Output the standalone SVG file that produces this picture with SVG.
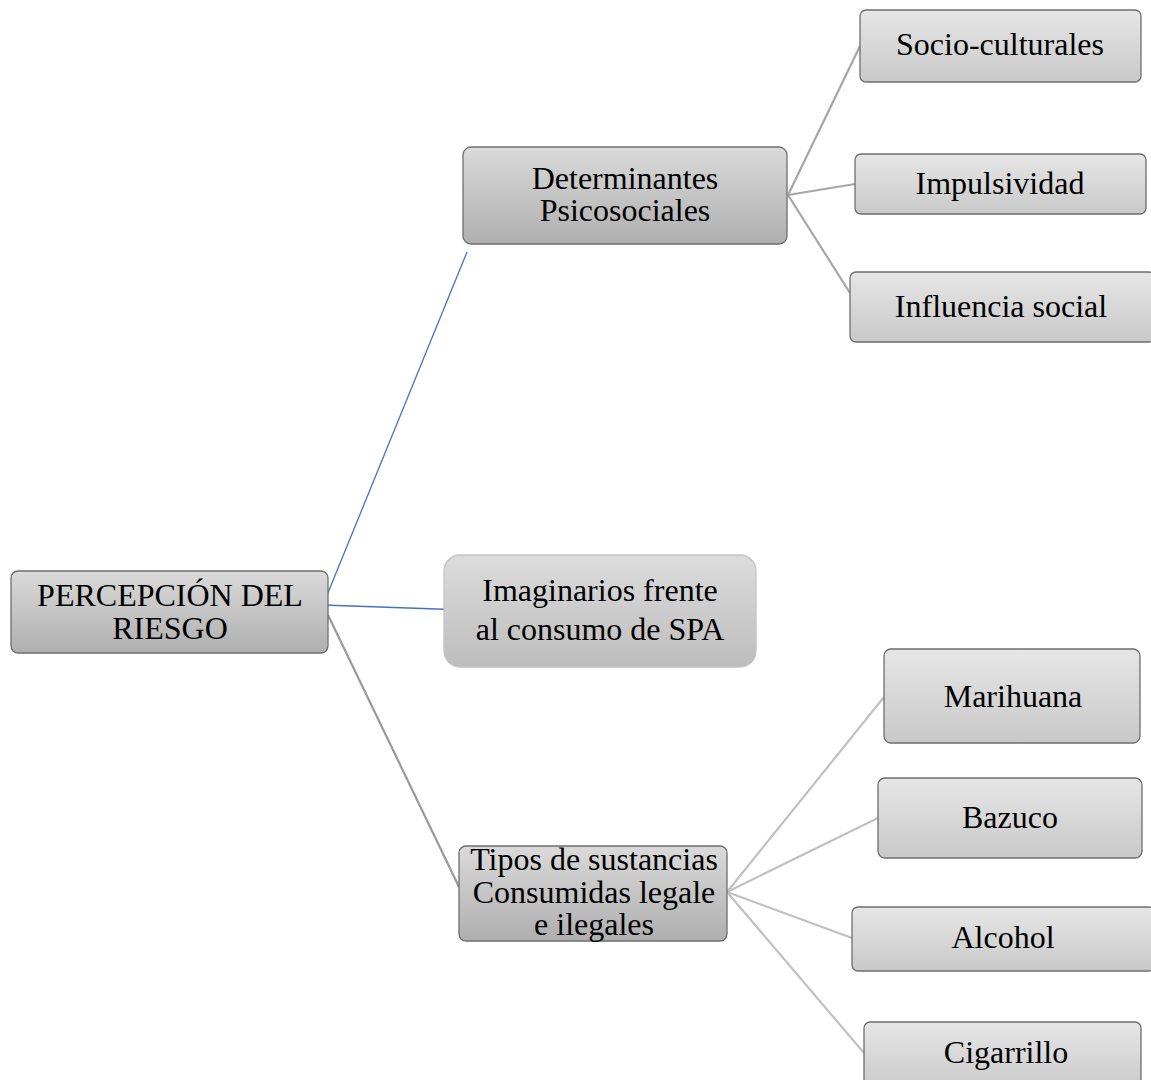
<svg xmlns="http://www.w3.org/2000/svg" width="1151" height="1080" viewBox="0 0 1151 1080">
<defs>
<linearGradient id="gMain" x1="0" y1="0" x2="0" y2="1">
<stop offset="0" stop-color="#dadada"/><stop offset="1" stop-color="#afafaf"/>
</linearGradient>
<linearGradient id="gSoft" x1="0" y1="0" x2="0" y2="1">
<stop offset="0" stop-color="#dcdcdc"/><stop offset="1" stop-color="#bdbdbd"/>
</linearGradient>
<linearGradient id="gLeaf" x1="0" y1="0" x2="0" y2="1">
<stop offset="0" stop-color="#e6e6e6"/><stop offset="1" stop-color="#c9c9c9"/>
</linearGradient>
</defs>
<style>
.main{fill:url(#gMain);stroke:#6e6e6e;stroke-width:1.3}
.soft{fill:url(#gSoft);stroke:#c4c4c4;stroke-width:1.3}
.leaf{fill:url(#gLeaf);stroke:#6e6e6e;stroke-width:1.3}
text{font-family:"Liberation Serif","Times New Roman",serif;font-size:32px;fill:#000;text-anchor:middle}
.blue{stroke:#4472c4;stroke-width:1.3;fill:none}
.g1{stroke:#999999;stroke-width:2.2;fill:none}
.g2{stroke:#a6a6a6;stroke-width:2.2;fill:none}
.g3{stroke:#c0c0c0;stroke-width:2.2;fill:none}
</style>
<rect width="1151" height="1080" fill="#ffffff"/>
<g id="connectors">
<line class="blue" x1="323" y1="605" x2="467" y2="252"/>
<line class="blue" x1="323" y1="605" x2="465" y2="610"/>
<line class="g1" x1="328" y1="615" x2="459" y2="887"/>
<line class="g2" x1="788" y1="195" x2="860" y2="46"/>
<line class="g2" x1="788" y1="195" x2="855" y2="184"/>
<line class="g2" x1="788" y1="195" x2="850" y2="293"/>
<line class="g3" x1="727" y1="892" x2="884" y2="697"/>
<line class="g3" x1="727" y1="892" x2="878" y2="818"/>
<line class="g3" x1="727" y1="892" x2="852" y2="938"/>
<line class="g3" x1="727" y1="892" x2="864" y2="1053"/>
</g>
<g id="root">
<rect class="main" x="11" y="571" width="317" height="82" rx="7"/>
<text x="170" y="606">PERCEPCIÓN DEL</text>
<text x="170" y="639">RIESGO</text>
</g>
<g id="determinantes">
<rect class="main" x="463" y="147" width="324" height="97" rx="8"/>
<text x="625" y="189">Determinantes</text>
<text x="625" y="221">Psicosociales</text>
</g>
<g id="imaginarios">
<rect class="soft" x="444" y="555" width="312" height="112" rx="16"/>
<text x="600" y="601">Imaginarios frente</text>
<text x="600" y="640">al consumo de SPA</text>
</g>
<g id="tipos">
<rect class="main" x="459" y="846" width="268" height="95" rx="7"/>
<text x="594" y="870">Tipos de sustancias</text>
<text x="594" y="903">Consumidas legale</text>
<text x="594" y="935">e ilegales</text>
</g>
<g id="socio">
<rect class="leaf" x="860" y="10" width="281" height="72" rx="6"/>
<text x="1000" y="55">Socio-culturales</text>
</g>
<g id="impulsividad">
<rect class="leaf" x="855" y="154" width="291" height="60" rx="6"/>
<text x="1000" y="194">Impulsividad</text>
</g>
<g id="influencia">
<rect class="leaf" x="850" y="272" width="305" height="70" rx="6"/>
<text x="1001" y="317">Influencia social</text>
</g>
<g id="marihuana">
<rect class="leaf" x="884" y="649" width="256" height="94" rx="7"/>
<text x="1013" y="707">Marihuana</text>
</g>
<g id="bazuco">
<rect class="leaf" x="878" y="778" width="264" height="80" rx="7"/>
<text x="1010" y="828">Bazuco</text>
</g>
<g id="alcohol">
<rect class="leaf" x="852" y="907" width="303" height="64" rx="6"/>
<text x="1003" y="948">Alcohol</text>
</g>
<g id="cigarrillo">
<rect class="leaf" x="864" y="1022" width="277" height="70" rx="6"/>
<text x="1006" y="1063">Cigarrillo</text>
</g>
</svg>
